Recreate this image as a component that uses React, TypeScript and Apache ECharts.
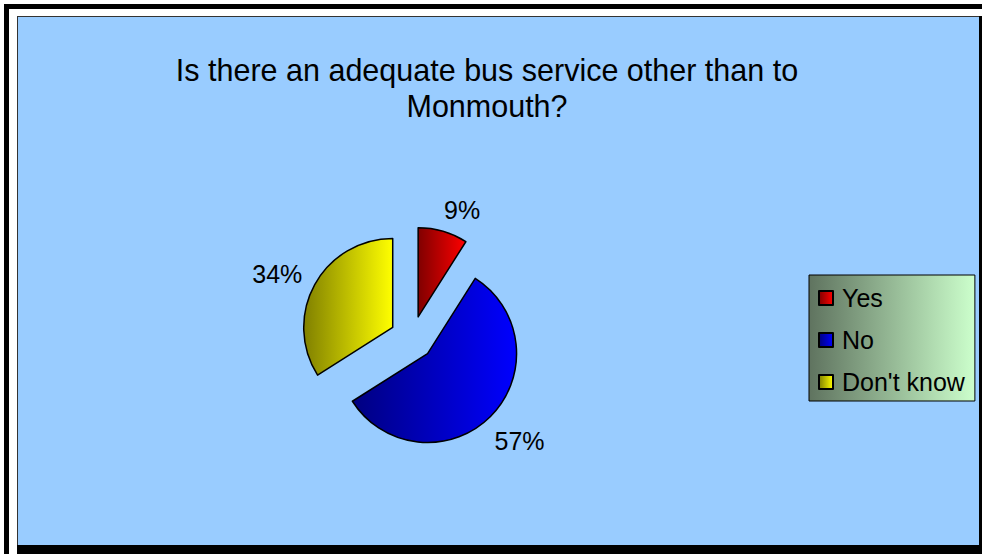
import React, { useEffect, useRef } from 'react';
import * as echarts from 'echarts';

const titleLines = ['Is there an adequate bus service other than to', 'Monmouth?'];
const categories = ['Yes', 'No', "Don't know"];
const values = [9, 57, 34];
const darkColors = ['#800000', '#000080', '#808000'];
const brightColors = ['#ff0000', '#0000ff', '#ffff00'];

const FONT = 'Liberation Sans, Arial, sans-serif';

export default function App() {
  const ref = useRef<HTMLDivElement>(null);
  useEffect(() => {
    const chart = echarts.init(ref.current!, null, { renderer: 'svg' });
    const labelLen = [22, 34, 21];
    const labelDx = [-5, -20, 6];
    const grad = (i: number) =>
      new echarts.graphic.LinearGradient(0, 0, 1, 0, [
        { offset: 0, color: darkColors[i] },
        { offset: 1, color: brightColors[i] },
      ]);
    chart.setOption({
      animation: false,
      backgroundColor: '#ffffff',
      graphic: [
        { type: 'rect', z: -10, shape: { x: 4, y: 4, width: 978, height: 5 }, style: { fill: '#000' } },
        { type: 'rect', z: -10, shape: { x: 4, y: 4, width: 5, height: 550 }, style: { fill: '#000' } },
        { type: 'rect', z: -10, shape: { x: 17, y: 16, width: 962, height: 529 }, style: { fill: '#99ccff' } },
        { type: 'rect', z: -9, shape: { x: 17, y: 16, width: 962, height: 1 }, style: { fill: '#333' } },
        { type: 'rect', z: -9, shape: { x: 17, y: 16, width: 1, height: 529 }, style: { fill: '#333' } },
        { type: 'rect', z: -9, shape: { x: 979, y: 16, width: 3, height: 538 }, style: { fill: '#000' } },
        { type: 'rect', z: -9, shape: { x: 17, y: 545, width: 965, height: 9 }, style: { fill: '#000' } },
        {
          type: 'text',
          z: 5,
          x: 487,
          y: 52,
          style: {
            text: titleLines.join('\n'),
            fontFamily: FONT,
            fontSize: 30.5,
            lineHeight: 36,
            fill: '#000',
            align: 'center',
            verticalAlign: 'top',
          },
        },
      ],
      legend: {
        orient: 'vertical',
        left: 809,
        top: 275,
        padding: [9, 10, 5, 9],
        itemWidth: 14,
        itemHeight: 14,
        itemGap: 14,
        icon: 'rect',
        backgroundColor: new echarts.graphic.LinearGradient(0, 0, 1, 0, [
          { offset: 0, color: '#5f735f' },
          { offset: 1, color: '#ccffcc' },
        ]),
        borderColor: '#000',
        borderWidth: 1,
        selectedMode: false,
        textStyle: { fontFamily: FONT, fontSize: 25, color: '#000', lineHeight: 28, padding: [0, 0, 0, 4] },
        data: categories,
      },
      series: [
        {
          type: 'pie',
          center: [412, 338],
          radius: 89,
          startAngle: 90,
          clockwise: true,
          selectedMode: 'multiple',
          selectedOffset: 22,
          avoidLabelOverlap: false,
          label: {
            show: true,
            position: 'outside',
            formatter: '{d}%',
            fontFamily: FONT,
            fontSize: 25,
            color: '#000',
            distanceToLabelLine: 0,
          },
          labelLine: { show: false, length2: 0 },
          labelLayout: (p: any) => ({ dx: labelDx[p.dataIndex] }),
          emphasis: { disabled: true },
          data: categories.map((name, i) => ({
            name,
            value: values[i],
            selected: true,
            labelLine: { show: false, length: labelLen[i], length2: 0 },
            itemStyle: { color: grad(i), borderColor: '#000', borderWidth: 1.5 },
          })),
        },
      ],
    });
    return () => chart.dispose();
  }, []);
  return (
    <div
      ref={ref}
      style={{ position: 'absolute', left: 0, top: 0, width: 982, height: 554 }}
    />
  );
}
